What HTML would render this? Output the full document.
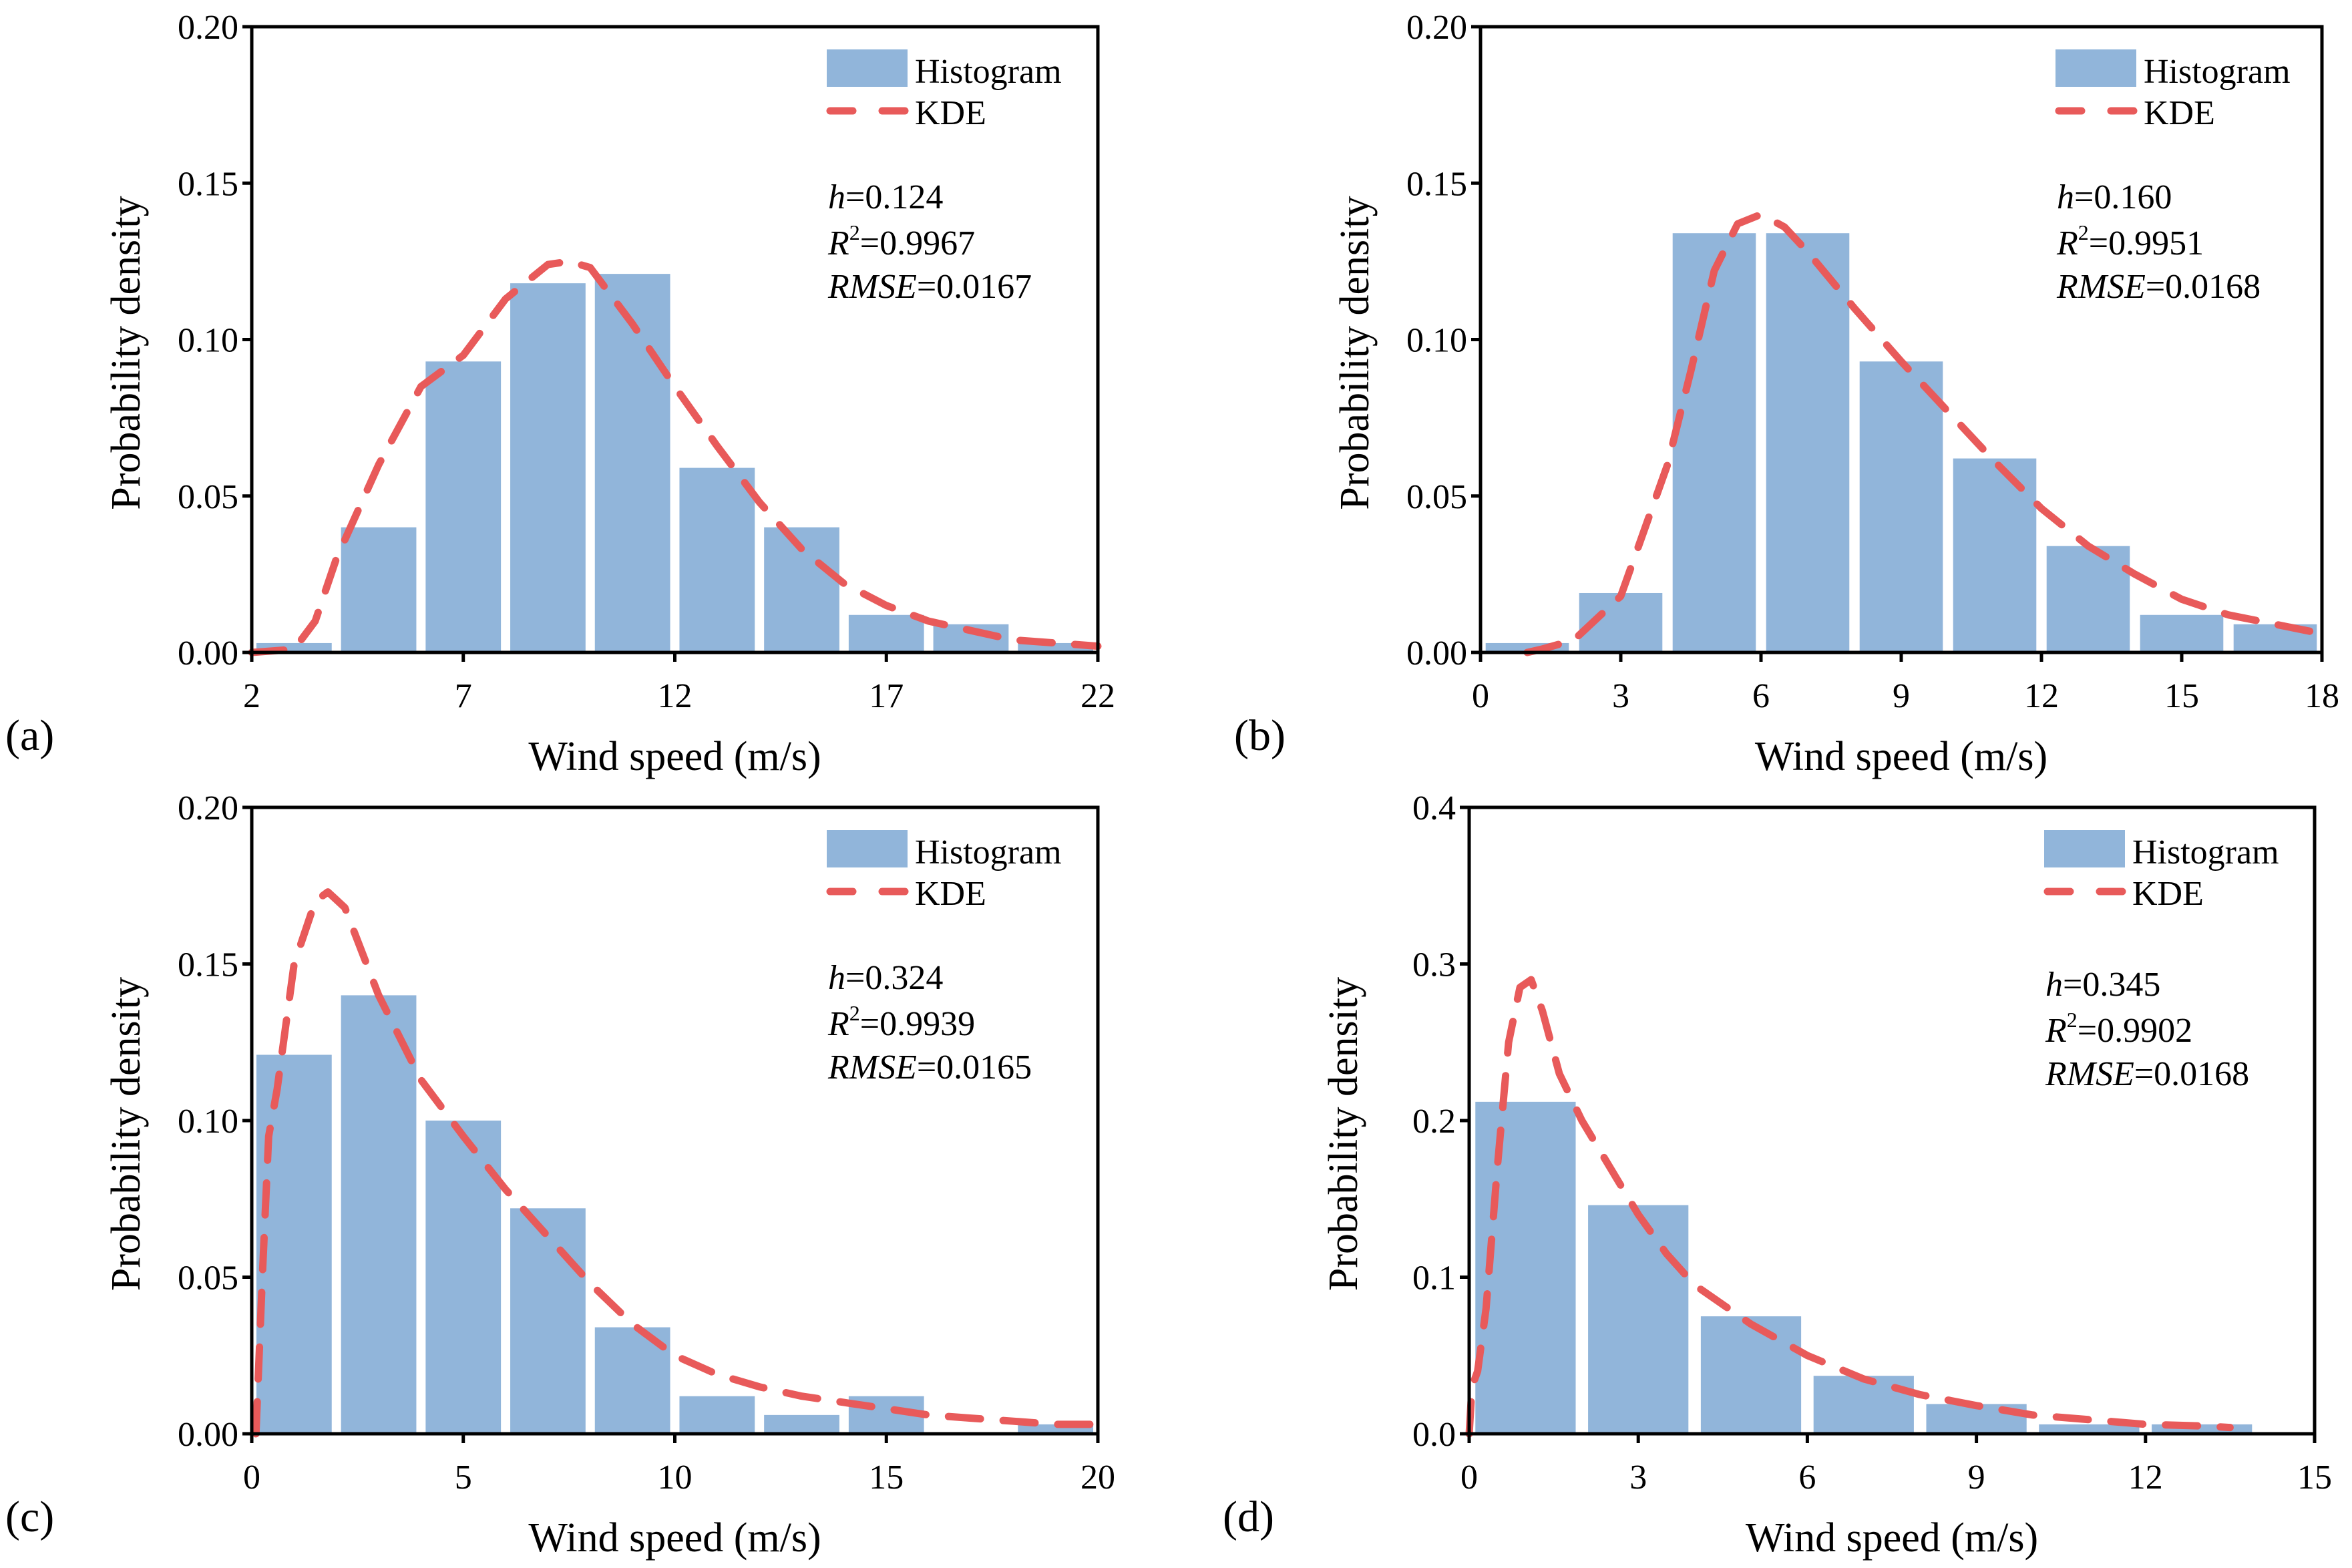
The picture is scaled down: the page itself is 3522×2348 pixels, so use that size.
<!DOCTYPE html>
<html><head><meta charset="utf-8"><style>
html,body{margin:0;padding:0;background:#fff;}
svg{display:block;}
svg text{font-family:"Liberation Serif","Times New Roman",serif;}
</style></head><body>
<svg id="fig" width="3522" height="2348" viewBox="0 0 3522 2348" xmlns="http://www.w3.org/2000/svg" font-family="Liberation Serif, serif"></svg>
<script>
// ---- data ----
const aBinStarts=[2,4,6,8,10,12,14,16,18,20];
const aHist=[0.003,0.040,0.093,0.118,0.121,0.059,0.040,0.012,0.009,0.003];
const aKdeX=[2,3,3.5,4,5,6,7,8,9,9.5,10,11,12,13,14,15,16,17,18,19,20,21,22];
const aKdeY=[0,0.001,0.01,0.03,0.06,0.085,0.095,0.113,0.124,0.125,0.123,0.105,0.085,0.066,0.048,0.033,0.022,0.015,0.010,0.007,0.004,0.003,0.002];
const aXTicks=[2,7,12,17,22];
const aYTicks=["0.00","0.05","0.10","0.15","0.20"];

const bBinStarts=[0,2,4,6,8,10,12,14,16];
const bHist=[0.003,0.019,0.134,0.134,0.093,0.062,0.034,0.012,0.009];
const bKdeX=[1,1.3,2,3,4,4.5,5,5.5,6,6.5,7,8,9,10,11,12,13,14,15,16,17,18];
const bKdeY=[0,0.001,0.004,0.018,0.06,0.09,0.122,0.137,0.14,0.136,0.128,0.11,0.093,0.077,0.061,0.046,0.034,0.025,0.017,0.012,0.009,0.006];
const bXTicks=[0,3,6,9,12,15,18];
const bYTicks=["0.00","0.05","0.10","0.15","0.20"];

const cBinStarts=[0,2,4,6,8,10,12,14,16,18];
const cHist=[0.121,0.140,0.100,0.072,0.034,0.012,0.006,0.012,0,0.003];
const cKdeX=[0.1,0.25,0.4,0.6,1,1.5,1.8,2.2,3,4,5,6,7,8,9,10,11,12,13,14,15,16,17,18,19,20];
const cKdeY=[0,0.05,0.095,0.11,0.15,0.17,0.173,0.168,0.14,0.113,0.095,0.078,0.063,0.048,0.035,0.025,0.019,0.015,0.012,0.01,0.008,0.006,0.005,0.004,0.003,0.003];
const cXTicks=[0,5,10,15,20];
const cYTicks=["0.00","0.05","0.10","0.15","0.20"];

const dBinStarts=[0,2,4,6,8,10,12];
const dHist=[0.212,0.146,0.075,0.037,0.019,0.006,0.006];
const dKdeX=[0,0.05,0.15,0.3,0.5,0.7,0.9,1.1,1.3,1.6,2,2.5,3,3.5,4,5,6,7,8,9,10,11,12,13,13.5];
const dKdeY=[0,0.03,0.04,0.08,0.17,0.25,0.285,0.29,0.27,0.23,0.2,0.17,0.14,0.115,0.095,0.07,0.05,0.035,0.025,0.018,0.012,0.009,0.006,0.005,0.004];
const dXTicks=[0,3,6,9,12,15];
const dYTicks=["0.0","0.1","0.2","0.3","0.4"];

const NS="http://www.w3.org/2000/svg";
const svg=document.getElementById('fig');
function mk(tag,attrs,parent){const e=document.createElementNS(NS,tag);for(const k in attrs)e.setAttribute(k,attrs[k]);if(tag==='text')e.setAttribute('font-family','Liberation Serif, serif');(parent||svg).appendChild(e);return e;}

function panel(id,L,R,T,B,xmin,xmax,ymax,bins,hist,kx,ky,xt,yt,stats,label,statsDy){
  const g=mk('g',{});
  
  
  const X=v=>L+(v-xmin)/(xmax-xmin)*(R-L);
  const Y=v=>B-v/ymax*(B-T);
  bins.forEach((s,i)=>{
    const x0=X(s),x1=X(s+2),w=(x1-x0)*0.89,c=(x0+x1)/2;
    const r=mk('rect',{x:c-w/2,y:Y(hist[i]),width:w,height:B-Y(hist[i]),fill:'#91b5da'},g);
    
    
  });
  const d=kx.map((v,i)=>(i?'L':'M')+X(v).toFixed(1)+' '+Y(ky[i]).toFixed(1)).join(' ');
  const p=mk('path',{d:d,fill:'none',stroke:'#e85a5a','stroke-width':11,'stroke-dasharray':'48 34','stroke-linecap':'round','stroke-linejoin':'round'},g);
  
  
  const fr=mk('rect',{x:L,y:T,width:R-L,height:B-T,fill:'none',stroke:'#000','stroke-width':5},g);
  
  
  xt.forEach(v=>{
    mk('line',{x1:X(v),x2:X(v),y1:B,y2:B+14,stroke:'#000','stroke-width':5},g);
    const t=mk('text',{x:X(v),y:B+82,'font-size':52,'text-anchor':'middle'},g);
    t.textContent=v;
    
    
  });
  yt.forEach((s,i)=>{
    const y=B-i/(yt.length-1)*(B-T);
    mk('line',{x1:L-14,x2:L,y1:y,y2:y,stroke:'#000','stroke-width':5},g);
    const t=mk('text',{x:L-20,y:y+18,'font-size':52,'text-anchor':'end'},g);
    t.textContent=s;
    
    
  });
  const xl=mk('text',{x:(L+R)/2,y:B+176,'font-size':62,'text-anchor':'middle'},g);
  xl.textContent='Wind speed (m/s)';
  
  
  const yx=L-168,yc=(T+B)/2+20;
  const yl=mk('text',{x:yx,y:yc,'font-size':62,'text-anchor':'middle',transform:`rotate(-90 ${yx} ${yc})`},g);
  yl.textContent='Probability density';
  
  
  const pl=mk('text',{x:L-369,y:B+146,'font-size':66},g);
  pl.textContent=label;
  
  
  // legend
  const lx=L+861,ly=T+34;
  const lb=mk('rect',{x:lx,y:ly,width:121,height:56,fill:'#91b5da'},g);
  
  
  const lt=mk('text',{x:lx+132,y:ly+50,'font-size':52},g);
  lt.textContent='Histogram';
  
  
  const ll=mk('path',{d:`M${lx+5} ${ly+92} L${lx+117} ${ly+92}`,stroke:'#e85a5a','stroke-width':11,'stroke-dasharray':'34 44','stroke-linecap':'round'},g);
  
  
  const lk=mk('text',{x:lx+132,y:ly+112,'font-size':52},g);
  lk.textContent='KDE';
  
  
  const sy=T+272+(statsDy||0);
  const s1=mk('text',{x:lx+2,y:sy,'font-size':52},g);
  s1.innerHTML='<tspan font-style="italic">h</tspan>=0.'+stats[0].slice(2);
  
  
  const s2=mk('text',{x:lx+2,y:sy+69,'font-size':52},g);
  s2.innerHTML='<tspan font-style="italic">R</tspan><tspan font-size="32" dy="-22">2</tspan><tspan dy="22">='+stats[1]+'</tspan>';
  
  
  const s3=mk('text',{x:lx+2,y:sy+134,'font-size':52},g);
  s3.innerHTML='<tspan font-style="italic">RMSE</tspan>='+stats[2];
  
  
}
panel('a',377,1644,40,977,2,22,0.2,aBinStarts,aHist,aKdeX,aKdeY,aXTicks,aYTicks,['0.124','0.9967','0.0167'],'(a)');
panel('b',2217,3477,40,977,0,18,0.2,bBinStarts,bHist,bKdeX,bKdeY,bXTicks,bYTicks,['0.160','0.9951','0.0168'],'(b)');
panel('c',377,1644,1209,2147,0,20,0.2,cBinStarts,cHist,cKdeX,cKdeY,cXTicks,cYTicks,['0.324','0.9939','0.0165'],'(c)');
panel('d',2200,3466,1209,2147,0,15,0.4,dBinStarts,dHist,dKdeX,dKdeY,dXTicks,dYTicks,['0.345','0.9902','0.0168'],'(d)',10);
</script>
</body></html>
